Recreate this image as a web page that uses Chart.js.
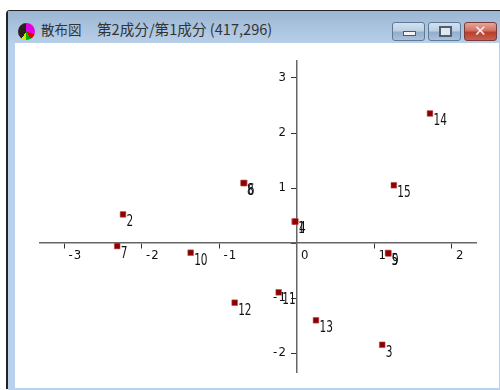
<!DOCTYPE html>
<html>
<head>
<meta charset="utf-8">
<script src="https://cdn.jsdelivr.net/npm/chart.js@4"></script>
<style>
html, body { margin: 0; padding: 0; background: #fff; }
#page { position: relative; width: 500px; height: 390px; overflow: hidden; }
#frame { position: absolute; left: 6px; top: 10px; width: 500px; height: 378px; background: #b9d1ea; border: 1px solid #222; border-radius: 4px 0 0 0; border-width: 1px 0 0 2px; }
#titlebar { position: absolute; left: 8px; top: 11px; width: 492px; height: 32px; background: linear-gradient(#9bb6d3, #b8cfe8); }
#client { position: absolute; left: 15px; top: 43px; width: 484px; height: 345px; background: #fff; }
#bottom { position: absolute; left: 8px; top: 388px; width: 492px; height: 2px; background: #b9d1ea; }
#icon { position: absolute; left: 18px; top: 23px; width: 17px; height: 17px; border-radius: 50%; background: conic-gradient(#e000e0 0 110deg, #e00000 110deg 150deg, #00b000 150deg 185deg, #e0e000 185deg 215deg, #2a2020 215deg 360deg); }
.title { position: absolute; top: 20px; font-family: "Noto Sans CJK JP", sans-serif; line-height: 18px; color: #333; white-space: pre; }
.btn { position: absolute; top: 22px; height: 17px; border: 1px solid #5f7a96; border-radius: 3px; background: linear-gradient(#d3e1ef 0, #bcd0e4 45%, #94aecb 55%, #a9c3dd 100%); }
.btn i { position: absolute; display: block; }
#close { border-color: #7a3a3a; background: linear-gradient(#e3a79b 0, #d2705f 45%, #b5402e 55%, #c9604d 100%); }
#chart { position: absolute; left: 0; top: 0; }
</style>
</head>
<body>
<div id="page">
  <div id="frame"></div>
  <div id="titlebar"></div>
  <div id="client"></div>
  <div id="bottom"></div>
  <div id="icon"></div>
  <div class="title" style="left:41px;font-size:13.5px">散布図</div>
  <div class="title" style="left:97px;font-size:14.6px">第2成分/第1成分 (417,296)</div>
  <div class="btn" style="left:392px;width:31px"><i style="left:10px;top:8px;width:11px;height:3px;background:#f4f4f4;border:1px solid #556"></i></div>
  <div class="btn" style="left:428px;width:31px"><i style="left:10px;top:3px;width:9px;height:7px;border:2px solid #4f5f70;background:#dfe8f0"></i></div>
  <div class="btn" id="close" style="left:464px;width:31px"><i style="left:9px;top:0;font:bold 15px/16px 'DejaVu Sans';color:#f3eeee">✕</i></div>
  <canvas id="chart" width="500" height="390"></canvas>
</div>
<script>
const pointLabels = ['1', '2', '3', '4', '5', '6', '7', '8', '9', '10', '11', '12', '13', '14', '15'];
const comp1 = [-0.03, -2.245, 1.10, -0.02, 1.175, -0.68, -2.32, -0.69, 1.18, -1.372, -0.236, -0.804, 0.245, 1.716, 1.25];
const comp2 = [0.39, 0.52, -1.85, 0.39, -0.18, 1.09, -0.055, 1.09, -0.19, -0.176, -0.897, -1.085, -1.405, 2.355, 1.05];

const tickFont = { family: '"DejaVu Sans Condensed", sans-serif', size: 13 };

// minus sign sits a little apart from the digit in the original
const tickText = v => String(v).replace('-', '-\u200a');

const data = {
    datasets: [{
        label: '第2成分/第1成分',
        data: comp1.map((v, i) => ({ x: v, y: comp2[i] })),
        pointStyle: 'rect',
        pointRadius: 4,
        pointBackgroundColor: '#8c0000',
        pointBorderColor: 'rgba(190, 70, 70, 0.55)',
        pointBorderWidth: 1,
        showLine: false,
    }]
};

// number next to each point, drawn below and to the right of the marker
const pointNumbers = {
    id: 'pointNumbers',
    afterDatasetsDraw(chart) {
        const ctx = chart.ctx;
        ctx.font = '13px ' + tickFont.family;
        ctx.fillStyle = '#111';
        ctx.textAlign = 'left';
        ctx.textBaseline = 'middle';
        chart.getDatasetMeta(0).data.forEach((pt, i) => {
            ctx.save();
            ctx.translate(pt.x + 3.5, pt.y + 8);
            ctx.scale(0.9, 1.15);
            ctx.fillText(pointLabels[i], 0, 0);
            ctx.restore();
        });
    }
};

const config = {
    type: 'scatter',
    data: data,
    plugins: [pointNumbers],
    options: {
        responsive: false,
        animation: false,
        layout: { padding: { left: 40, right: 24, top: 61, bottom: 18 } },
        plugins: { legend: { display: false }, title: { display: false }, tooltip: { enabled: false } },
        scales: {
            x: {
                type: 'linear',
                position: { y: 0 },
                min: -3.316,
                max: 2.31,
                border: { color: '#666', width: 1.5 },
                grid: { drawOnChartArea: false, color: '#333', tickLength: 5 },
                ticks: { stepSize: 1, includeBounds: false, maxRotation: 0, align: 'start', labelOffset: 4, padding: 0, color: '#111', font: tickFont, callback: tickText }
            },
            y: {
                type: 'linear',
                position: { x: 0 },
                min: -2.345,
                max: 3.309,
                border: { color: '#666', width: 1.5 },
                grid: { drawOnChartArea: false, color: '#333', tickLength: 5 },
                // padding is ignored for an axis pinned to a value, so nbsp pushes the text off the axis
                ticks: { stepSize: 1, includeBounds: false, color: '#111', font: tickFont, callback: v => (v === 0 ? '' : tickText(v) + '\u00a0\u00a0\u00a0') }
            }
        }
    }
};

const myChart = new Chart(document.getElementById('chart'), config);
</script>
</body>
</html>
